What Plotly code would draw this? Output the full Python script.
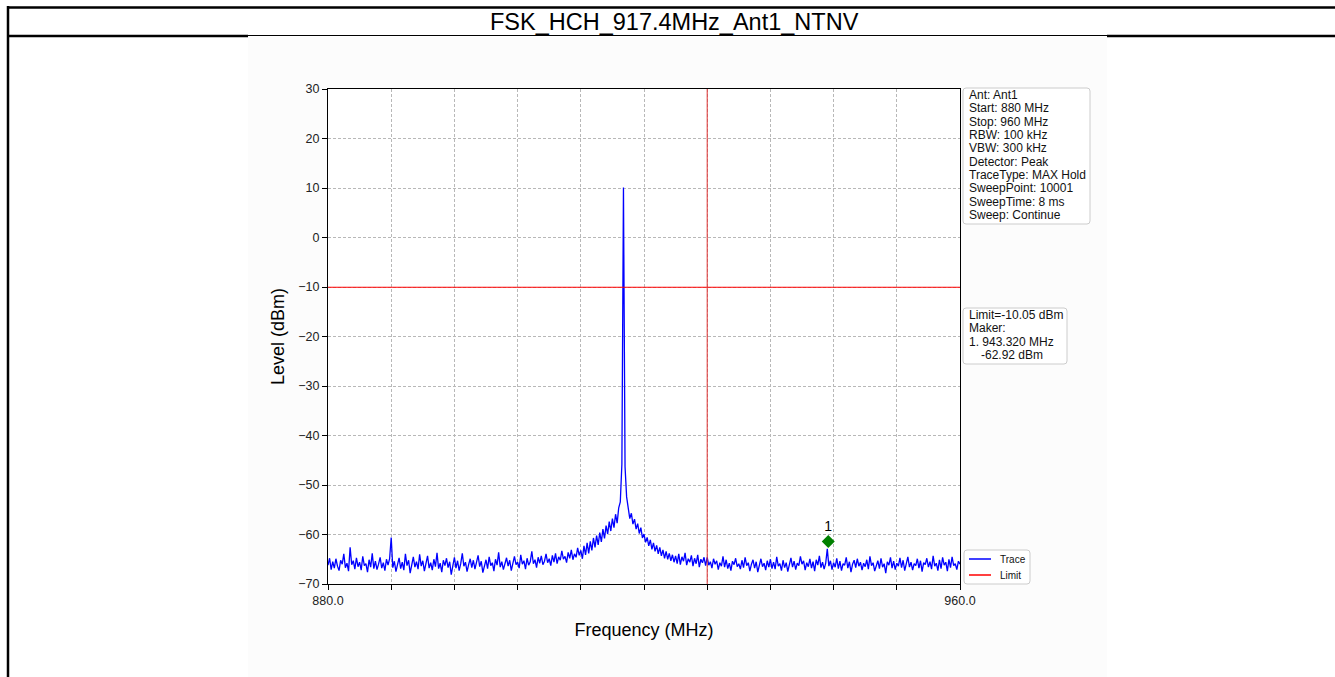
import plotly.graph_objects as go

# ---------------- data ----------------
TITLE = "FSK_HCH_917.4MHz_Ant1_NTNV"
FREQ_START = 880.0      # MHz, first sweep point
FREQ_STEP = 0.2         # MHz between the sweep points listed below
LEVELS = [
    -66.2,-64.8,-67.1,-65.5,-66.8,-64.9,-66.4,-67.3,-65.2,-66.0,-63.9,-66.7,-65.8,-67.4,-62.6,-66.1,-65.3,-67.0,-64.7,-66.5,
    -65.6,-67.2,-64.4,-66.3,-65.9,-67.6,-65.1,-66.6,-63.8,-66.9,-65.4,-67.1,-66.0,-64.6,-66.8,-65.7,-67.3,-65.0,-66.2,-64.9,
    -60.6,-66.7,-65.4,-67.5,-66.1,-64.7,-66.9,-65.6,-67.2,-63.9,-66.3,-65.2,-67.8,-66.0,-64.5,-66.6,-65.5,-67.0,-64.0,-66.4,
    -65.3,-67.4,-66.1,-64.3,-66.8,-65.7,-67.2,-65.0,-66.5,-63.7,-66.9,-65.8,-67.6,-65.2,-66.3,-64.8,-66.7,-65.5,-68.1,-66.0,
    -64.6,-66.8,-65.3,-67.3,-65.9,-63.8,-66.4,-65.6,-67.5,-66.1,-64.9,-66.7,-65.2,-67.0,-65.8,-64.2,-66.5,-65.4,-67.7,-66.0,
    -65.1,-66.9,-64.5,-66.3,-65.7,-67.4,-65.0,-66.2,-63.6,-66.6,-65.5,-67.1,-65.9,-64.7,-66.4,-65.2,-67.3,-65.8,-64.4,-66.1,
    -65.6,-66.8,-64.1,-66.0,-65.3,-67.0,-64.8,-66.2,-65.5,-63.4,-65.9,-65.1,-66.7,-64.6,-65.8,-64.3,-66.1,-65.4,-63.9,-65.7,
    -64.9,-66.3,-64.2,-65.6,-63.8,-65.9,-64.5,-65.2,-63.3,-65.0,-64.4,-65.7,-63.6,-64.8,-63.1,-65.1,-63.9,-64.6,-62.7,-64.2,
    -63.2,-64.9,-62.3,-64.1,-61.7,-63.8,-61.4,-63.2,-60.7,-62.6,-60.2,-62.1,-59.6,-61.5,-58.9,-60.8,-58.2,-59.9,-57.4,-59.3,
    -56.8,-58.6,-55.9,-57.7,-54.6,-53.4,-45.8,10.1,-46.3,-52.4,-54.9,-56.8,-55.7,-57.9,-56.9,-58.9,-57.8,-59.8,-58.6,-60.7,
    -59.9,-61.6,-60.6,-62.3,-61.1,-63.0,-61.7,-63.4,-62.2,-63.9,-62.6,-64.3,-63.1,-64.8,-63.4,-65.0,-63.8,-65.3,-64.1,-65.6,
    -64.3,-65.9,-63.9,-66.1,-64.5,-65.4,-63.7,-66.2,-64.9,-65.6,-64.2,-66.4,-64.8,-65.9,-64.1,-66.6,-65.0,-65.7,-64.6,-66.3,
    -64.6,-66.2,-65.5,-66.8,-64.9,-66.0,-65.3,-67.1,-65.7,-66.4,-64.4,-66.6,-65.1,-66.9,-65.8,-67.3,-65.4,-66.1,-64.8,-66.5,
    -65.9,-67.0,-65.2,-66.7,-64.6,-66.3,-65.7,-67.4,-66.0,-65.1,-66.8,-65.5,-67.6,-66.2,-64.9,-66.5,-65.8,-67.2,-65.3,-66.6,
    -65.0,-66.9,-65.6,-67.0,-64.5,-66.4,-65.9,-67.3,-65.2,-66.7,-65.7,-67.5,-66.1,-64.7,-66.6,-65.4,-67.1,-65.8,-66.3,-64.4,
    -66.0,-65.3,-67.2,-65.7,-66.5,-64.9,-66.8,-65.5,-67.4,-65.1,-66.2,-64.3,-66.7,-65.6,-67.0,-65.8,-62.9,-66.4,-65.3,-67.1,
    -65.7,-66.6,-64.8,-66.9,-65.4,-67.3,-65.9,-66.2,-64.6,-66.8,-65.5,-67.6,-66.0,-65.2,-66.7,-64.9,-66.4,-65.6,-67.2,-65.8,
    -66.5,-65.1,-67.0,-64.4,-66.3,-65.7,-67.4,-66.1,-65.3,-66.9,-64.8,-66.6,-65.9,-67.8,-65.5,-66.2,-64.6,-66.8,-65.4,-67.1,
    -65.8,-66.4,-64.7,-66.7,-65.2,-67.3,-66.0,-64.5,-66.6,-65.6,-67.2,-65.9,-66.3,-64.9,-66.8,-65.3,-67.5,-65.7,-66.1,-64.8,
    -66.6,-65.5,-67.0,-64.3,-66.4,-65.8,-67.3,-65.1,-66.9,-64.6,-66.2,-65.6,-67.4,-65.0,-66.7,-64.5,-66.3,-65.9,-67.1,-65.4,
    -66.0,
]
FREQS = [FREQ_START + i * FREQ_STEP for i in range(len(LEVELS))]

LIMIT_LEVEL = -10.05
VLINE_FREQ = 928.0
MARKER_FREQ = 943.32
MARKER_PLOT_LEVEL = -61.4
MARKER_LABEL = "1"

X_RANGE = [880.0, 960.0]
Y_RANGE = [-70, 30]
X_TICKS = [880, 888, 896, 904, 912, 920, 928, 936, 944, 952, 960]
X_TICK_TEXT = ["880.0", "", "", "", "", "", "", "", "", "", "960.0"]
Y_TICKS = [-70, -60, -50, -40, -30, -20, -10, 0, 10, 20, 30]

INFO_LINES = ["Ant: Ant1", "Start: 880 MHz", "Stop: 960 MHz", "RBW: 100 kHz", "VBW: 300 kHz",
              "Detector: Peak", "TraceType: MAX Hold", "SweepPoint: 10001", "SweepTime: 8 ms",
              "Sweep: Continue"]
MARKER_LINES = ["Limit=-10.05 dBm", "Maker:", "1. 943.320 MHz", "-62.92 dBm"]
MARKER_LINE_INDENT = [0, 0, 0, 12]
LEGEND_NAMES = ["Trace", "Limit"]
LEGEND_COLORS = ["#0000ff", "#ff0000"]

# ---------------- layout geometry (pixels) ----------------
W, H = 1335, 677
PL, PR, PT, PB = 328, 960, 89, 584


def px_x(p):
    return (p - PL) / (PR - PL)


def px_y(p):
    return (PB - p) / (PB - PT)


def rounded_box(x0, y0, x1, y1, r=3):
    X = lambda p: px_x(p)
    Y = lambda p: px_y(p)
    return (f"M {X(x0 + r)} {Y(y0)} L {X(x1 - r)} {Y(y0)} Q {X(x1)} {Y(y0)} {X(x1)} {Y(y0 + r)} "
            f"L {X(x1)} {Y(y1 - r)} Q {X(x1)} {Y(y1)} {X(x1 - r)} {Y(y1)} "
            f"L {X(x0 + r)} {Y(y1)} Q {X(x0)} {Y(y1)} {X(x0)} {Y(y1 - r)} "
            f"L {X(x0)} {Y(y0 + r)} Q {X(x0)} {Y(y0)} {X(x0 + r)} {Y(y0)} Z")


FONT = "Liberation Sans, Arial, sans-serif"

fig = go.Figure()
fig.add_trace(go.Scatter(x=FREQS, y=LEVELS, mode="lines", name=LEGEND_NAMES[0],
                         line=dict(color=LEGEND_COLORS[0], width=1.3), showlegend=False))
fig.add_trace(go.Scatter(x=X_RANGE, y=[LIMIT_LEVEL, LIMIT_LEVEL], mode="lines", name=LEGEND_NAMES[1],
                         line=dict(color=LEGEND_COLORS[1], width=1), showlegend=False))
fig.add_trace(go.Scatter(x=[MARKER_FREQ], y=[MARKER_PLOT_LEVEL], mode="markers+text",
                         text=[MARKER_LABEL], textposition="top center",
                         textfont=dict(size=14, color="black", family=FONT),
                         marker=dict(symbol="diamond", size=10, color="#008000"),
                         showlegend=False))

shapes = [
    # light figure background
    dict(type="rect", xref="paper", yref="paper", x0=px_x(248), x1=px_x(1107), y0=px_y(677), y1=px_y(37),
         fillcolor="#fcfcfc", line=dict(width=0), layer="below"),
    dict(type="rect", xref="paper", yref="paper", x0=0, x1=1, y0=0, y1=1,
         fillcolor="white", line=dict(width=0), layer="below"),
    # outer frame
    dict(type="line", xref="paper", yref="paper", x0=px_x(8), x1=px_x(8), y0=px_y(680), y1=px_y(6),
         line=dict(color="black", width=2.5)),
    dict(type="line", xref="paper", yref="paper", x0=px_x(7), x1=px_x(1340), y0=px_y(7.5), y1=px_y(7.5),
         line=dict(color="black", width=2.5)),
    dict(type="line", xref="paper", yref="paper", x0=px_x(7), x1=px_x(248), y0=px_y(36), y1=px_y(36),
         line=dict(color="black", width=2.5)),
    dict(type="line", xref="paper", yref="paper", x0=px_x(248), x1=px_x(1107), y0=px_y(35.5), y1=px_y(35.5),
         line=dict(color="black", width=1)),
    dict(type="line", xref="paper", yref="paper", x0=px_x(1107), x1=px_x(1340), y0=px_y(36), y1=px_y(36),
         line=dict(color="black", width=2.5)),
    # vertical reference line
    dict(type="line", xref="x", yref="paper", x0=VLINE_FREQ, x1=VLINE_FREQ, y0=0, y1=1,
         line=dict(color="#e03030", width=1)),
    # info boxes
    dict(type="path", xref="paper", yref="paper", path=rounded_box(963, 88, 1090, 224),
         fillcolor="white", line=dict(color="#cccccc", width=1)),
    dict(type="path", xref="paper", yref="paper", path=rounded_box(963, 308, 1067, 364),
         fillcolor="white", line=dict(color="#cccccc", width=1)),
    dict(type="path", xref="paper", yref="paper", path=rounded_box(964, 550, 1030, 584),
         fillcolor="white", line=dict(color="#cccccc", width=1)),
]

annotations = [
    dict(text=TITLE, xref="paper", yref="paper", x=px_x(674), y=px_y(22), xanchor="center", yanchor="middle",
         showarrow=False, font=dict(size=23.5, color="black", family=FONT)),
]
for k, line in enumerate(INFO_LINES):
    annotations.append(dict(text=line, xref="paper", yref="paper", x=px_x(967), y=px_y(95 + 13.33 * k),
                            xanchor="left", yanchor="middle", showarrow=False,
                            font=dict(size=12, color="#111111", family=FONT)))
for k, line in enumerate(MARKER_LINES):
    annotations.append(dict(text=line, xref="paper", yref="paper",
                            x=px_x(967 + MARKER_LINE_INDENT[k]), y=px_y(315 + 13.33 * k),
                            xanchor="left", yanchor="middle", showarrow=False,
                            font=dict(size=12, color="#111111", family=FONT)))
for k, (name, col) in enumerate(zip(LEGEND_NAMES, LEGEND_COLORS)):
    yy = 559 + 16 * k
    shapes.append(dict(type="line", xref="paper", yref="paper", x0=px_x(969), x1=px_x(991),
                       y0=px_y(yy), y1=px_y(yy), line=dict(color=col, width=1.5)))
    annotations.append(dict(text=name, xref="paper", yref="paper", x=px_x(998), y=px_y(yy),
                            xanchor="left", yanchor="middle", showarrow=False,
                            font=dict(size=10, color="#111111", family=FONT)))

fig.update_layout(
    width=W, height=H,
    margin=dict(l=PL, r=W - PR, t=PT, b=H - PB, pad=0),
    paper_bgcolor="white", plot_bgcolor="white",
    font=dict(family=FONT, color="black"),
    showlegend=False,
    shapes=shapes, annotations=annotations,
)
fig.update_xaxes(range=X_RANGE, tickvals=X_TICKS, ticktext=X_TICK_TEXT,
                 showgrid=True, gridcolor="#b8b8b8", griddash="3px,2px", gridwidth=0.8,
                 showline=True, linecolor="black", linewidth=1.3, mirror=True,
                 ticks="outside", ticklen=5, tickcolor="black", zeroline=False,
                 tickfont=dict(size=12.5, family=FONT, color="#222222"),
                 title=dict(text="Frequency (MHz)", font=dict(size=18, family=FONT), standoff=16))
fig.update_yaxes(range=Y_RANGE, tickvals=Y_TICKS,
                 showgrid=True, gridcolor="#b8b8b8", griddash="3px,2px", gridwidth=0.8,
                 showline=True, linecolor="black", linewidth=1.3, mirror=True,
                 ticks="outside", ticklen=5, tickcolor="black", zeroline=False,
                 tickfont=dict(size=12.5, family=FONT, color="#222222"),
                 title=dict(text="Level (dBm)", font=dict(size=18, family=FONT), standoff=8))

fig.write_html("out.html", config={"displayModeBar": False},
               post_script="document.body.style.margin='0';document.body.style.overflow='hidden';")
